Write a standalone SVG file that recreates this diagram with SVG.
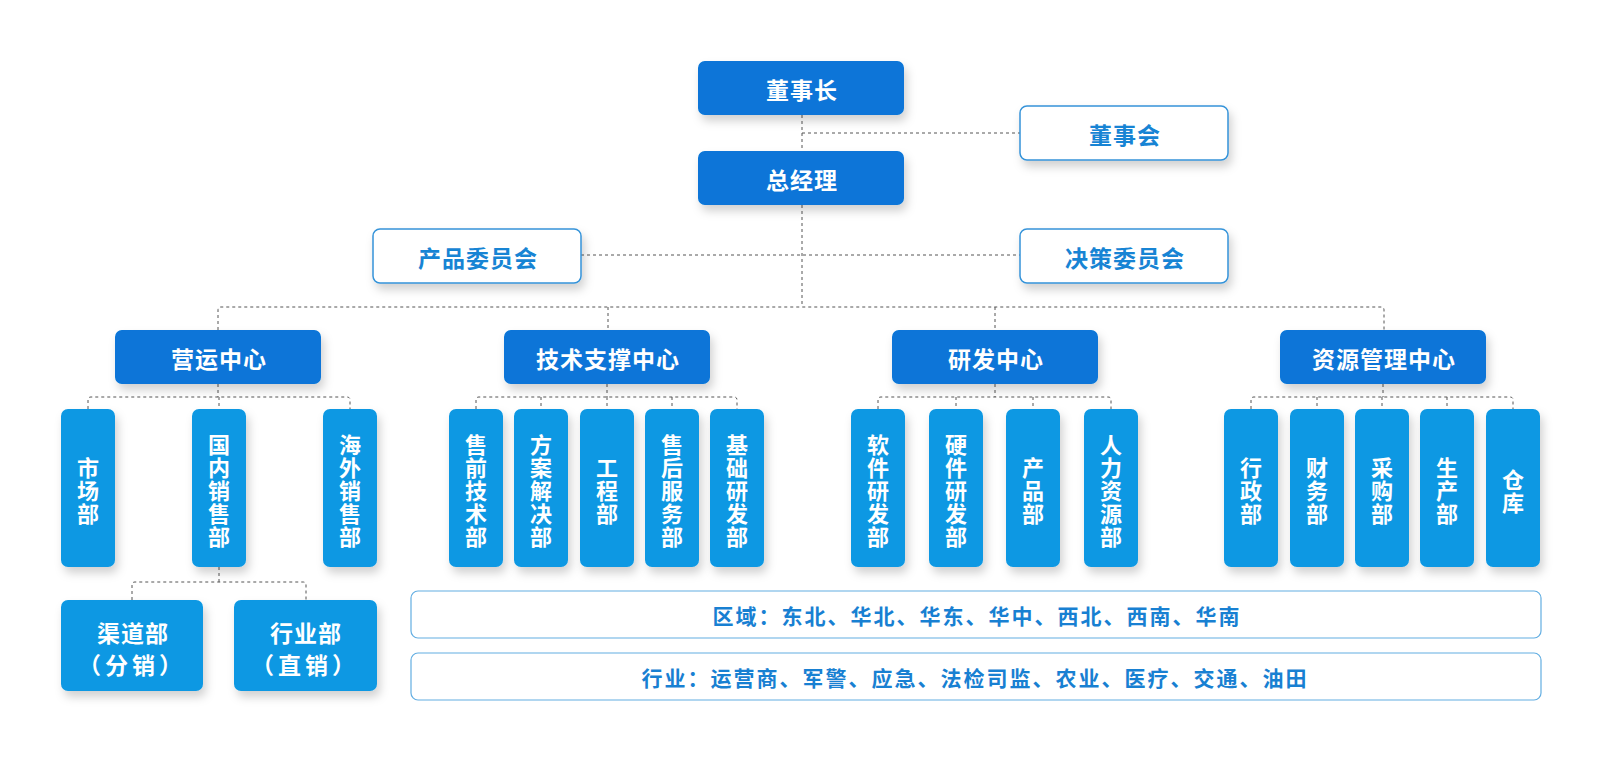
<svg xmlns="http://www.w3.org/2000/svg" width="1600" height="772" viewBox="0 0 1600 772">
<defs>
<filter id="sh" x="-30%" y="-30%" width="160%" height="170%">
<feDropShadow dx="3" dy="6" stdDeviation="5" flood-color="#000" flood-opacity="0.18"/>
</filter>
<style>
text{font-family:"Noto Sans CJK SC","Noto Sans",sans-serif;font-weight:700;text-anchor:middle;dominant-baseline:central}
.dk{fill:#0774d8;filter:url(#sh)}
.lt{fill:#0b98e3;filter:url(#sh)}
.wb{fill:#fff;stroke:#3493d9;stroke-width:1.5;filter:url(#sh)}
.rb{fill:#fff;stroke:#63aee2;stroke-width:1.2}
.wt{fill:#fff;font-size:23px;letter-spacing:1px}
.bt{fill:#1784d4;font-size:23px;letter-spacing:1px}
.vt{fill:#fff;font-size:22px}
.rt{fill:#1880d2;font-size:21px;letter-spacing:2px}
.ln{fill:none;stroke:#555;stroke-width:1;stroke-dasharray:3 3}
</style>
</defs>
<rect width="1600" height="772" fill="#fff"/>
<g id="connectors">
<path class="ln" d="M802,115 V306"/>
<path class="ln" d="M802,133 H1020"/>
<path class="ln" d="M581,255 H1020"/>
<path class="ln" d="M218,330 V310 Q218,307 221,307 H1381 Q1384,307 1384,310 V330"/>
<path class="ln" d="M608,307 V330 M995,307 V330"/>
<path class="ln" d="M218,384 V397"/>
<path class="ln" d="M88,409 V400 Q88,397 91,397 H347 Q350,397 350,400 V409 M219,397 V409"/>
<path class="ln" d="M607,384 V397"/>
<path class="ln" d="M476,409 V400 Q476,397 479,397 H734 Q737,397 737,400 V409 M541,397 V409 M607,397 V409 M672,397 V409"/>
<path class="ln" d="M995,384 V397"/>
<path class="ln" d="M878,409 V400 Q878,397 881,397 H1108 Q1111,397 1111,400 V409 M956,397 V409 M1033,397 V409"/>
<path class="ln" d="M1383,384 V397"/>
<path class="ln" d="M1251,409 V400 Q1251,397 1254,397 H1510 Q1513,397 1513,400 V409 M1317,397 V409 M1382,397 V409 M1447,397 V409"/>
<path class="ln" d="M219,567 V582"/>
<path class="ln" d="M132,600 V585 Q132,582 135,582 H303 Q306,582 306,585 V600"/>
</g>
<g id="chairman"><rect class="dk" x="698" y="61" width="206" height="54" rx="7"/><text class="wt" x="802" y="89">董事长</text></g>
<g id="board"><rect class="wb" x="1020" y="106" width="208" height="54" rx="7"/><text class="bt" x="1125" y="134">董事会</text></g>
<g id="gm"><rect class="dk" x="698" y="151" width="206" height="54" rx="7"/><text class="wt" x="802" y="179">总经理</text></g>
<g id="product-committee"><rect class="wb" x="373" y="229" width="208" height="54" rx="7"/><text class="bt" x="478" y="257">产品委员会</text></g>
<g id="decision-committee"><rect class="wb" x="1020" y="229" width="208" height="54" rx="7"/><text class="bt" x="1125" y="257">决策委员会</text></g>

<g id="ops-center"><rect class="dk" x="115" y="330" width="206" height="54" rx="7"/><text class="wt" x="219" y="358">营运中心</text></g>
<g id="tech-center"><rect class="dk" x="504" y="330" width="206" height="54" rx="7"/><text class="wt" x="608" y="358">技术支撑中心</text></g>
<g id="rd-center"><rect class="dk" x="892" y="330" width="206" height="54" rx="7"/><text class="wt" x="996" y="358">研发中心</text></g>
<g id="res-center"><rect class="dk" x="1280" y="330" width="206" height="54" rx="7"/><text class="wt" x="1384" y="358">资源管理中心</text></g>

<g id="market"><rect class="lt" x="61" y="409" width="54" height="158" rx="7"/><text class="vt"><tspan x="88" y="466">市</tspan><tspan x="88" dy="23">场</tspan><tspan x="88" dy="23">部</tspan></text></g>
<g id="domestic"><rect class="lt" x="192" y="409" width="54" height="158" rx="7"/><text class="vt"><tspan x="219" y="443">国</tspan><tspan x="219" dy="23">内</tspan><tspan x="219" dy="23">销</tspan><tspan x="219" dy="23">售</tspan><tspan x="219" dy="23">部</tspan></text></g>
<g id="overseas"><rect class="lt" x="323" y="409" width="54" height="158" rx="7"/><text class="vt"><tspan x="350" y="443">海</tspan><tspan x="350" dy="23">外</tspan><tspan x="350" dy="23">销</tspan><tspan x="350" dy="23">售</tspan><tspan x="350" dy="23">部</tspan></text></g>

<g id="presales"><rect class="lt" x="449" y="409" width="54" height="158" rx="7"/><text class="vt"><tspan x="476" y="443">售</tspan><tspan x="476" dy="23">前</tspan><tspan x="476" dy="23">技</tspan><tspan x="476" dy="23">术</tspan><tspan x="476" dy="23">部</tspan></text></g>
<g id="solution"><rect class="lt" x="514" y="409" width="54" height="158" rx="7"/><text class="vt"><tspan x="541" y="443">方</tspan><tspan x="541" dy="23">案</tspan><tspan x="541" dy="23">解</tspan><tspan x="541" dy="23">决</tspan><tspan x="541" dy="23">部</tspan></text></g>
<g id="engineering"><rect class="lt" x="580" y="409" width="54" height="158" rx="7"/><text class="vt"><tspan x="607" y="466">工</tspan><tspan x="607" dy="23">程</tspan><tspan x="607" dy="23">部</tspan></text></g>
<g id="aftersales"><rect class="lt" x="645" y="409" width="54" height="158" rx="7"/><text class="vt"><tspan x="672" y="443">售</tspan><tspan x="672" dy="23">后</tspan><tspan x="672" dy="23">服</tspan><tspan x="672" dy="23">务</tspan><tspan x="672" dy="23">部</tspan></text></g>
<g id="basic-rd"><rect class="lt" x="710" y="409" width="54" height="158" rx="7"/><text class="vt"><tspan x="737" y="443">基</tspan><tspan x="737" dy="23">础</tspan><tspan x="737" dy="23">研</tspan><tspan x="737" dy="23">发</tspan><tspan x="737" dy="23">部</tspan></text></g>

<g id="software"><rect class="lt" x="851" y="409" width="54" height="158" rx="7"/><text class="vt"><tspan x="878" y="443">软</tspan><tspan x="878" dy="23">件</tspan><tspan x="878" dy="23">研</tspan><tspan x="878" dy="23">发</tspan><tspan x="878" dy="23">部</tspan></text></g>
<g id="hardware"><rect class="lt" x="929" y="409" width="54" height="158" rx="7"/><text class="vt"><tspan x="956" y="443">硬</tspan><tspan x="956" dy="23">件</tspan><tspan x="956" dy="23">研</tspan><tspan x="956" dy="23">发</tspan><tspan x="956" dy="23">部</tspan></text></g>
<g id="product"><rect class="lt" x="1006" y="409" width="54" height="158" rx="7"/><text class="vt"><tspan x="1033" y="466">产</tspan><tspan x="1033" dy="23">品</tspan><tspan x="1033" dy="23">部</tspan></text></g>
<g id="hr"><rect class="lt" x="1084" y="409" width="54" height="158" rx="7"/><text class="vt"><tspan x="1111" y="443">人</tspan><tspan x="1111" dy="23">力</tspan><tspan x="1111" dy="23">资</tspan><tspan x="1111" dy="23">源</tspan><tspan x="1111" dy="23">部</tspan></text></g>

<g id="admin"><rect class="lt" x="1224" y="409" width="54" height="158" rx="7"/><text class="vt"><tspan x="1251" y="466">行</tspan><tspan x="1251" dy="23">政</tspan><tspan x="1251" dy="23">部</tspan></text></g>
<g id="finance"><rect class="lt" x="1290" y="409" width="54" height="158" rx="7"/><text class="vt"><tspan x="1317" y="466">财</tspan><tspan x="1317" dy="23">务</tspan><tspan x="1317" dy="23">部</tspan></text></g>
<g id="purchase"><rect class="lt" x="1355" y="409" width="54" height="158" rx="7"/><text class="vt"><tspan x="1382" y="466">采</tspan><tspan x="1382" dy="23">购</tspan><tspan x="1382" dy="23">部</tspan></text></g>
<g id="production"><rect class="lt" x="1420" y="409" width="54" height="158" rx="7"/><text class="vt"><tspan x="1447" y="466">生</tspan><tspan x="1447" dy="23">产</tspan><tspan x="1447" dy="23">部</tspan></text></g>
<g id="warehouse"><rect class="lt" x="1486" y="409" width="54" height="158" rx="7"/><text class="vt"><tspan x="1513" y="477.5">仓</tspan><tspan x="1513" dy="23">库</tspan></text></g>

<g id="channel"><rect class="lt" x="61" y="600" width="142" height="91" rx="7"/><text class="wt" x="133" y="632">渠道部</text><text class="wt" x="132" y="664" style="letter-spacing:4px">（分销）</text></g>
<g id="industry"><rect class="lt" x="234" y="600" width="143" height="91" rx="7"/><text class="wt" x="306" y="632">行业部</text><text class="wt" x="305" y="664" style="letter-spacing:4px">（直销）</text></g>

<g id="region"><rect class="rb" x="411" y="591" width="1130" height="47" rx="7"/><text class="rt" x="977" y="615">区域：东北、华北、华东、华中、西北、西南、华南</text></g>
<g id="industries"><rect class="rb" x="411" y="653" width="1130" height="47" rx="7"/><text class="rt" x="975" y="677">行业：运营商、军警、应急、法检司监、农业、医疗、交通、油田</text></g>
</svg>
